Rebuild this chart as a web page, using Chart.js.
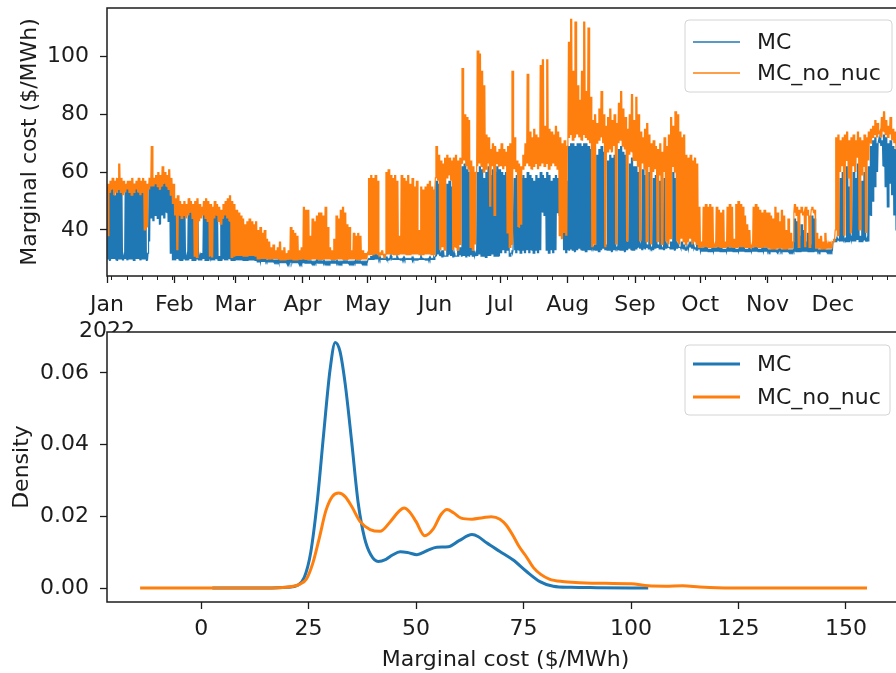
<!DOCTYPE html>
<html>
<head>
<meta charset="utf-8">
<script src="https://cdn.jsdelivr.net/npm/chart.js@4.4.1/dist/chart.umd.min.js"></script>
<style>
  html, body { margin: 0; padding: 0; background: #fff; }
  #wrap { position: relative; width: 896px; height: 673px; overflow: hidden; background: #fff; }
  canvas { position: absolute; left: 0; }
  #topChart { top: 0; }
  #kdeChart { top: 300px; }
</style>
</head>
<body>
<div id="wrap">
  <canvas id="topChart" width="910" height="340"></canvas>
  <canvas id="kdeChart" width="910" height="373"></canvas>
</div>
<script>
// ---- Daily low / high marginal cost, 2022 ($/MWh), one row per month ----
const mcLow = [
  30,29.5,30,30,29.5,30,30,29.5,30,29.5,30,30,29.5,30,30,29.5,30,30,29.5,36,44,43,45,44,42,45,44,46,43,32,29.5,
  29.5,30,29.5,29.5,30,29.5,29.5,30,29.5,29.5,30,29.5,29.5,30,29.5,29.5,30,29.5,29.5,30,29.5,29.5,30,29.5,29.5,30,29.5,29.5,
  29.5,29.5,29.5,29.5,29.5,29.5,29.5,29.5,29.5,29.5,29,29,29,29,29,29,29,29,29,29,28.7,28.7,28.7,28.7,28.7,28.7,28.7,28.7,28.7,28.7,28.7,
  28.5,28.5,28.5,28.5,28.5,28.5,28.5,28.5,28.5,28.5,28.5,28.5,28.5,28.5,28.5,28.5,28.5,28.5,28.5,28.5,28.5,28.5,28.5,28.5,28.5,28.5,28.5,28.5,28.5,28.5,
  29.8,29.8,29.8,29.8,29.8,29.8,29.8,29.8,29.8,29.8,29.8,29.8,29.8,29.8,29.8,29.8,29.8,29.8,29.8,29.8,29.8,29.8,29.8,29.8,29.8,29.8,29.8,29.8,29.8,29.8,29.8,
  31,31.5,31,30.5,31,31,31.5,31,30.5,31,31,31.5,31,31,30.5,31,31.5,31,31,31,31.5,31,31,30.5,31,31,31.5,31,31,31,
  32,33,32,33,31,32,33,32,33,32,33,32,33,32,33,32,33,32,33,46,45,33,32,33,32,33,46,45,44,33,32,
  33,33.5,33,32.5,33,33.5,33,33,32.5,33,33,33.5,33,33,32.5,33,33.5,33,33,33,32.5,33,33.5,33,33,33,32.5,33,33.5,33,33,
  33.5,34,33.5,33,33.5,34,33.5,33.5,33,33.5,34,33.5,33.5,33,33.5,34,33.5,33.5,33,33.5,34,33.5,33.5,33,33.5,34,33.5,33.5,33,33.5,
  32.5,32.5,32.5,32.5,32.5,32.5,32.5,32.5,32.5,32.5,32.5,32.5,32.5,32.5,32.5,32.5,32.5,32.5,32.5,32.5,32.5,32.5,32.5,32.5,32.5,32.5,32.5,32.5,32.5,32.5,32.5,
  32.5,32.5,32.5,32.5,32.5,32.5,32.5,32.5,32.5,32.5,32.5,32.5,32.5,32.5,32.5,32.5,32.5,32.5,32.5,32.5,32.5,32.5,32.5,32.5,32.5,32.5,32.5,32.5,32.5,32.5,
  36,36,36.5,36,36,36.5,36,36,36.5,36,36,36.5,36,36,36.5,36,36,45,50,55,60,70,69,62,55,48,56,52,45,40,38
];
const mcHigh = [
  55,54,55,52,55,56,54,31,55,56,55,54,56,55,53,56,55,54,32,56,57,57,56,57,55,56,57,56,55,56,50,
  46,48,47,46,47,31,46,47,48,46,45,31,32,46,47,46,31,45,47,46,31,44,46,47,45,46,44,46,
  44,42,39,40,31,34,35,33,34,31,30,30.5,30,30,29.5,29.5,30,29.5,29.5,29.5,30,29.5,29.5,29.5,29.5,30,29.5,29.5,29.5,29.5,29.5,
  32,30,29.5,29.5,29,29,29.5,29,29,29.5,29,29,29,29,29,29.5,29,29,29,29,29,29,29,29,29.5,29,29,29,29,29,
  30,31,34,33,31,30.5,30,30,30.5,30,31,30,30,30.5,30,30,30.5,30,30,30,30.5,30,30,30,30.5,30,30,30,30.5,30,30.5,
  57,56,32,33,31,56,57,55,32,31,33,34,62,63,61,60,35,33,32,60,62,61,58,60,62,59,61,60,62,61,
  60,59,60,58,32,33,58,59,57,58,59,58,60,59,58,57,59,58,60,59,58,60,59,57,58,59,58,57,56,58,57,
  69,70,70,69,70,70,69,70,70,69,68,34,35,66,68,69,67,35,64,66,65,66,34,68,69,67,66,36,63,65,62,
  62,60,35,61,59,35,60,34,58,59,35,57,34,58,35,34,36,60,58,35,34,36,35,34,35,36,35,34,35,34,
  33.5,33.5,34,33.5,33.5,34,33.5,33.5,34,35,33.5,33.5,34,33.5,33.5,34,33.5,33.5,39,34,33.5,33.5,34,33.5,33.5,34,33.5,33.5,34,33.5,33.5,
  33,33,33.5,33,33,33.5,33,33,33.5,33,33,33,44,43,38,42,40,36,39,35,45,44,34,33,33,33.5,33,33,33,33,
  36,37,37,58,60,37,62,55,38,60,58,63,38,57,60,37,62,69,71,72,70,72,71,73,72,70,71,69,68,66,65
];
const noNucLow = [
  38,53,54,52,53,54,53,52,53,54,53,52,53,54,53,52,53,40,41,54,55,55,56,55,54,55,56,55,54,52,49,
  45,33,45,44,45,44,45,46,44,31,30.5,43,44,45,44,43,31,30.5,44,45,43,42,44,45,44,43,30.5,31,
  31,31,31,31,31,31,31,31,31,31,30,30,30,30,30,30,30,30,30,30,29.7,29.7,29.7,29.7,29.7,29.7,29.7,29.7,29.7,29.7,29.7,
  29.8,29.8,29.8,29.8,29.8,29.8,29.8,29.8,29.8,29.8,29.8,29.8,29.8,29.8,29.8,29.8,29.8,29.8,29.8,29.8,29.8,29.8,29.8,29.8,29.8,29.8,29.8,29.8,29.8,29.8,
  31.5,31.5,31.5,31.5,31.5,31.5,31.5,31.5,31.5,31.5,31.5,31.5,31.5,31.5,31.5,31.5,31.5,31.5,31.5,31.5,31.5,31.5,31.5,31.5,31.5,31.5,31.5,31.5,31.5,31.5,31.5,
  58,57,33,34,33,58,59,57,33,34,33,35,63,64,62,61,34,33,35,62,63,62,60,61,63,48,62,45,63,62,
  62,61,62,39,34,35,61,60,41,42,61,62,63,62,61,62,63,61,62,63,62,63,61,62,63,62,61,38,37,39,38,
  72,73,71,72,73,72,71,73,72,71,70,34,35,70,71,72,70,34,67,68,67,69,35,70,71,69,68,36,66,67,64,
  64,62,36,63,61,36,62,35,60,61,36,59,35,60,36,35,37,62,60,36,35,37,36,35,36,37,35,36,35,34,
  34,34,34,34,34,34,34,34,34,34,34,34,34,34,34,34,34,34,34,34,34,34,34,34,34,34,34,34,34,34,34,
  33.5,33.5,33.5,33.5,33.5,33.5,33.5,33.5,33.5,33.5,33.5,33.5,46,45,34,46,45,34,45,34,47,46,33.5,33.5,33.5,33.5,33.5,33.5,33.5,33.5,
  36,40,38,60,62,38,64,58,39,62,60,65,40,59,62,39,64,70,72,73,72,73,72,74,73,72,73,71,70,68,67
];
const noNucHigh = [
  56,57,58,57,58,63,58,57,56,57,57,58,56,57,58,57,58,57,56,58,69,58,59,60,59,62,60,59,61,58,56,
  51,52,50,49,50,49,51,50,49,50,51,49,48,50,51,50,49,48,50,49,48,47,49,50,51,52,50,49,
  47,46,45,44,42,43,44,43,42,43,40,41,39,40,37,36,34,35,33,34,36,33,34,32,33,41,40,39,38,33,34,
  48,47,47,38,44,43,45,46,46,45,48,41,34,33,37,45,44,47,48,46,42,41,33,39,38,39,38,33,32,32,
  58,59,58,59,57,32,33,31,60,61,59,58,59,57,38,59,58,57,59,56,58,55,57,40,55,54,55,56,57,55,54,
  69,66,64,63,65,66,65,64,65,66,64,65,96,80,79,78,64,62,60,102,101,95,90,73,72,68,70,69,67,68,
  70,68,67,69,70,95,72,64,63,62,66,70,94,74,72,75,73,72,97,99,76,99,75,74,73,76,74,72,70,71,69,
  105,113,95,112,90,85,95,112,88,110,86,78,80,77,82,88,80,76,79,82,78,80,77,84,88,82,79,75,80,87,78,
  86,80,74,72,75,77,73,70,71,69,68,70,67,72,69,73,79,76,81,80,74,72,73,66,65,66,64,65,63,48,
  36,48,49,48,49,48,35,48,47,46,47,36,48,49,48,37,49,50,49,48,45,42,40,35,48,49,48,47,46,47,46,
  46,45,44,48,46,43,47,45,40,44,39,36,49,48,47,48,46,48,47,45,48,47,39,37,38,36,39,35,36,35,
  37,72,73,71,72,73,74,71,72,73,71,74,72,71,73,72,74,75,76,78,77,74,79,81,78,76,79,75,74,73,72
];

// ---- Time axis: day-of-year of each month start, labels, weekly (Monday) minor ticks ----
const monthStarts = [0,31,59,90,120,151,181,212,243,273,304,334];
const monthLabels = ['Jan','Feb','Mar','Apr','May','Jun','Jul','Aug','Sep','Oct','Nov','Dec'];
const yearLabel = '2022';
const weekStarts = [2,9,16,23,30,37,44,51,58,65,72,79,86,93,100,107,114,121,128,135,142,149,156,163,170,177,184,191,198,205,212,219,226,233,240,247,254,261,268,275,282,289,296,303,310,317,324,331,338,345,352,359];
const costTicks = [40, 60, 80, 100];

// ---- Kernel density estimates of the marginal cost ----
const kdeGridMC = [2.6,15,20,22.5,24,25.5,27,28.5,30,31.2,32.3,33.5,35,36.5,38,39.5,41.2,43,44.5,46.3,48,50.2,52.5,54.8,57.5,60,63,64.5,66.4,69.5,72.6,75.7,78.8,81.9,86,92,104];
const densityMC = [0,0,0.0002,0.0008,0.003,0.01,0.024,0.043,0.061,0.0685,0.066,0.057,0.041,0.024,0.014,0.0092,0.0074,0.008,0.0092,0.0101,0.0099,0.0093,0.0104,0.0114,0.0115,0.0132,0.0149,0.0143,0.0126,0.0102,0.0078,0.0046,0.0018,0.0005,0.0002,0.0001,0];
const kdeGridNoNuc = [-14.2,0,10,18,21,23,24.5,26,27.5,29,30.5,32,33.5,35,37,39.3,41.6,44,46,47.2,48.5,50,52,54,55.8,57.2,58.7,60.5,63,65.5,67.5,69.5,71,72.6,74,75.5,77.3,79,81,84,88,94,100,104,108,112,116,120,130,154.9];
const densityNoNuc = [0,0,0,0.0001,0.0004,0.0011,0.0025,0.007,0.014,0.0215,0.0255,0.0265,0.0255,0.0228,0.0185,0.0163,0.0158,0.0185,0.0214,0.0223,0.0212,0.0185,0.0146,0.0165,0.0205,0.0219,0.021,0.0195,0.0192,0.0196,0.0199,0.0192,0.0175,0.0145,0.0115,0.009,0.0057,0.0038,0.0025,0.0018,0.0015,0.0013,0.0012,0.0006,0.0005,0.0006,0.0003,0.0001,0,0];
const densityTicks = [0, 0.02, 0.04, 0.06];
const costAxisTicks = [0, 25, 50, 75, 100, 125, 150];

const BLUE = '#1f77b4';
const ORANGE = '#ff7f0e';
const INK = '#1c1c1c';
const FAMILY = "'DejaVu Sans', sans-serif";
const FONT = { family: FAMILY, size: 22, lineHeight: 1.2 };

// Each day swings between its low and its high twice (morning and evening peaks).
function dailyPoints(lo, hi) {
  const pts = [];
  for (let d = 0; d < lo.length; d++) {
    pts.push({ x: d + 0.125, y: lo[d] });
    pts.push({ x: d + 0.375, y: hi[d] });
    pts.push({ x: d + 0.625, y: lo[d] });
    pts.push({ x: d + 0.875, y: hi[d] });
  }
  return pts;
}
function pairs(xs, ys) {
  return xs.map((x, i) => ({ x, y: ys[i] }));
}

// Keep the plot rectangle where the layout puts it, ignoring label overhang.
function fixWidth(w) {
  return s => { s.width = w; s.paddingTop = 0; s.paddingBottom = 0; };
}
function fixHeight(h) {
  return s => { s.height = h; s.paddingLeft = 0; s.paddingRight = 0; };
}

// White plot face, full box outline, optional minor ticks and a framed legend.
const framePlugin = {
  id: 'frame',
  beforeDraw(chart) {
    const { ctx, chartArea: a } = chart;
    ctx.save();
    ctx.fillStyle = '#fff';
    ctx.fillRect(a.left, a.top, a.right - a.left, a.bottom - a.top);
    ctx.restore();
  },
  afterDraw(chart, args, opts) {
    const { ctx, chartArea: a } = chart;
    ctx.save();
    if (opts.minor) {
      const xs = chart.scales.x;
      ctx.strokeStyle = INK;
      ctx.lineWidth = 1;
      ctx.beginPath();
      opts.minor.forEach(v => {
        if (monthStarts.includes(v)) return;
        const px = Math.round(xs.getPixelForValue(v)) + 0.5;
        ctx.moveTo(px, a.bottom);
        ctx.lineTo(px, a.bottom + 4);
      });
      ctx.stroke();
    }
    ctx.strokeStyle = INK;
    ctx.lineWidth = 1.5;
    ctx.strokeRect(a.left, a.top, a.right - a.left, a.bottom - a.top);

    if (opts.legend) {
      const L = opts.legend;
      const [bx, by, bw, bh] = L.box;
      const r = 4;
      ctx.beginPath();
      ctx.moveTo(bx + r, by);
      ctx.lineTo(bx + bw - r, by);
      ctx.arcTo(bx + bw, by, bx + bw, by + r, r);
      ctx.lineTo(bx + bw, by + bh - r);
      ctx.arcTo(bx + bw, by + bh, bx + bw - r, by + bh, r);
      ctx.lineTo(bx + r, by + bh);
      ctx.arcTo(bx, by + bh, bx, by + bh - r, r);
      ctx.lineTo(bx, by + r);
      ctx.arcTo(bx, by, bx + r, by, r);
      ctx.closePath();
      ctx.fillStyle = 'rgba(255,255,255,0.8)';
      ctx.fill();
      ctx.strokeStyle = '#d4d4d4';
      ctx.lineWidth = 1;
      ctx.stroke();
      chart.data.datasets.forEach((ds, i) => {
        const y = L.rows[i];
        ctx.strokeStyle = ds.borderColor;
        ctx.lineWidth = L.lineWidth;
        ctx.beginPath();
        ctx.moveTo(L.lineX[0], y);
        ctx.lineTo(L.lineX[1], y);
        ctx.stroke();
        ctx.fillStyle = INK;
        ctx.font = '22px ' + FAMILY;
        ctx.textBaseline = 'middle';
        ctx.textAlign = 'left';
        ctx.fillText(ds.label, L.textX, y + 1);
      });
    }
    ctx.restore();
  }
};

const baseGrid = { drawOnChartArea: false, drawTicks: true, tickLength: 7, tickColor: INK, tickWidth: 1.3 };

// ---- Top: hourly marginal cost through 2022 ----
new Chart(document.getElementById('topChart'), {
  type: 'line',
  data: {
    datasets: [
      { label: 'MC', data: dailyPoints(mcLow, mcHigh), borderColor: BLUE, borderWidth: 1.2, pointRadius: 0, tension: 0, order: 1 },
      { label: 'MC_no_nuc', data: dailyPoints(noNucLow, noNucHigh), borderColor: ORANGE, borderWidth: 1.2, pointRadius: 0, tension: 0, order: 0 }
    ]
  },
  options: {
    responsive: false, animation: false, devicePixelRatio: 1,
    layout: { padding: { top: 8, right: 10, left: 0, bottom: 0 } },
    plugins: {
      legend: { display: false }, tooltip: { enabled: false },
      frame: { minor: weekStarts, legend: { box: [685, 20, 207, 72], rows: [42, 73], lineX: [693, 740], textX: 757, lineWidth: 1.3 } }
    },
    scales: {
      x: {
        type: 'linear', min: 0, max: 364.96,
        afterFit: fixHeight(64),
        afterBuildTicks: s => { s.ticks = monthStarts.map(v => ({ value: v })); },
        grid: baseGrid, border: { display: false },
        ticks: {
          autoSkip: false, maxRotation: 0, padding: 9, color: INK,
          font: { family: FAMILY, size: 22, lineHeight: 1.2 },
          callback: (v, i) => i === 0 ? [monthLabels[0], yearLabel] : monthLabels[i]
        }
      },
      y: {
        min: 24.1, max: 116.7,
        afterFit: fixWidth(107),
        afterBuildTicks: s => { s.ticks = costTicks.map(v => ({ value: v })); },
        grid: baseGrid, border: { display: false },
        ticks: { padding: 11, color: INK, font: FONT, callback: v => String(v) },
        title: { display: true, text: 'Marginal cost ($/MWh)', color: INK, font: FONT, padding: { top: 17, bottom: 0 } }
      }
    }
  },
  plugins: [framePlugin]
});

// ---- Bottom: density of the marginal cost ----
new Chart(document.getElementById('kdeChart'), {
  type: 'line',
  data: {
    datasets: [
      { label: 'MC', data: pairs(kdeGridMC, densityMC), borderColor: BLUE, borderWidth: 3, pointRadius: 0, cubicInterpolationMode: 'monotone', order: 1 },
      { label: 'MC_no_nuc', data: pairs(kdeGridNoNuc, densityNoNuc), borderColor: ORANGE, borderWidth: 3, pointRadius: 0, cubicInterpolationMode: 'monotone', order: 0 }
    ]
  },
  options: {
    responsive: false, animation: false, devicePixelRatio: 1,
    layout: { padding: { top: 32, right: 6, left: 0, bottom: 0 } },
    plugins: {
      legend: { display: false }, tooltip: { enabled: false },
      frame: { legend: { box: [685, 45, 205, 70], rows: [64, 97], lineX: [693, 740], textX: 757, lineWidth: 3 } }
    },
    scales: {
      x: {
        type: 'linear', min: -21.9, max: 163.5,
        afterFit: fixHeight(71),
        afterBuildTicks: s => { s.ticks = costAxisTicks.map(v => ({ value: v })); },
        grid: baseGrid, border: { display: false },
        ticks: { autoSkip: false, maxRotation: 0, padding: 7, color: INK, font: FONT, callback: v => String(v) },
        title: { display: true, text: 'Marginal cost ($/MWh)', color: INK, font: FONT, padding: { top: 0, bottom: 0 } }
      },
      y: {
        min: -0.0039, max: 0.0714,
        afterFit: fixWidth(107),
        afterBuildTicks: s => { s.ticks = densityTicks.map(v => ({ value: v })); },
        grid: baseGrid, border: { display: false },
        ticks: { padding: 11, color: INK, font: FONT, callback: v => v.toFixed(2) },
        title: { display: true, text: 'Density', color: INK, font: FONT, padding: { top: 9, bottom: 0 } }
      }
    }
  },
  plugins: [framePlugin]
});
</script>
</body>
</html>
